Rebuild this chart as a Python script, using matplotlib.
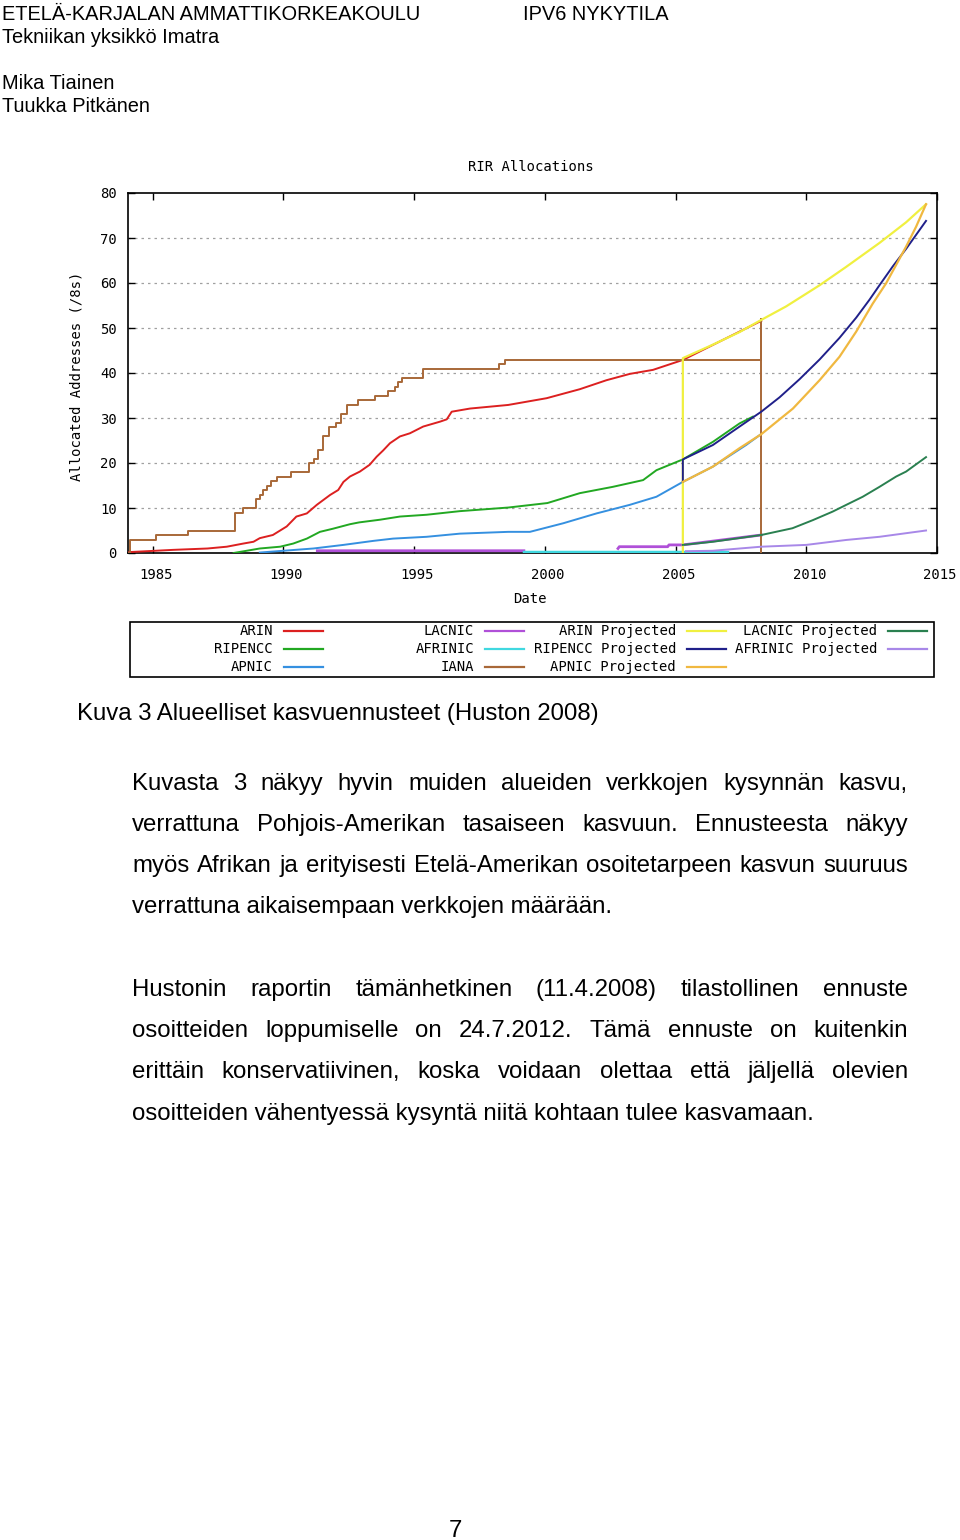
import matplotlib
matplotlib.use("Agg")
import matplotlib.pyplot as plt
import numpy as np
from matplotlib.lines import Line2D
from matplotlib.patches import Rectangle
from matplotlib.transforms import ScaledTranslation

# ---------------- data ----------------
x_ticks = [1985, 1990, 1995, 2000, 2005, 2010, 2015]
y_ticks = [0, 10, 20, 30, 40, 50, 60, 70, 80]

iana_x = [1984.07, 1984.14, 1985.13, 1986.37, 1988.16, 1988.47, 1988.96, 1989.09, 1989.24, 1989.37,
          1989.53, 1989.75, 1990.3, 1991.0, 1991.18, 1991.34, 1991.53, 1991.76, 1992.0, 1992.21,
          1992.43, 1992.87, 1993.51, 1994.02, 1994.27, 1994.4, 1994.53, 1995.35, 1998.26, 1998.47,
          2008.28, 2008.28, 2008.28]
iana_y = [0, 3, 4, 5, 9, 10, 12, 13, 14, 15,
          16, 17, 18, 20, 21, 23, 26, 28, 29, 31,
          33, 34, 35, 36, 37, 38, 39, 41, 42, 43,
          43, 52, 0]

arin_x = [1984.1, 1985.8, 1987.1, 1987.84, 1988.47, 1988.86, 1989.1, 1989.6, 1990.13, 1990.5,
          1990.9, 1991.28, 1991.79, 1992.1, 1992.3, 1992.55, 1992.93, 1993.3, 1993.57, 1993.82,
          1994.08, 1994.46, 1994.84, 1995.35, 1996.0, 1996.25, 1996.44, 1997.14, 1998.6, 2000.07,
          2001.34, 2002.36, 2003.25, 2004.14, 2005.28, 2006.69, 2008.28]
arin_y = [0.2, 0.7, 1.0, 1.4, 2.1, 2.5, 3.3, 4.0, 5.9, 8.1,
          8.8, 10.7, 12.9, 14.0, 15.8, 17.0, 18.1, 19.6, 21.4, 22.8,
          24.4, 25.9, 26.6, 28.1, 29.2, 29.7, 31.4, 32.1, 32.9, 34.4,
          36.4, 38.4, 39.8, 40.7, 42.9, 47.0, 51.6]

ripe_x = [1988.1, 1989.1, 1989.88, 1990.38, 1990.9, 1991.4, 1991.9, 1992.55, 1992.9, 1993.7,
          1994.46, 1995.48, 1996.75, 1998.6, 2000.1, 2001.34, 2002.6, 2003.76, 2004.27, 2005.28,
          2006.43, 2007.45, 2007.96]
ripe_y = [0.0, 1.0, 1.4, 2.1, 3.2, 4.7, 5.4, 6.4, 6.8, 7.4,
          8.1, 8.5, 9.3, 10.1, 11.1, 13.3, 14.7, 16.2, 18.4, 20.8,
          24.7, 28.8, 30.3]

apnic_x = [1989.1, 1991.15, 1992.3, 1993.45, 1994.2, 1995.48, 1996.75, 1998.6, 1999.43, 2000.7,
           2001.98, 2003.25, 2004.27, 2005.28, 2006.43, 2007.7, 2008.22]
apnic_y = [0.1, 1.0, 1.8, 2.7, 3.2, 3.6, 4.3, 4.7, 4.7, 6.6,
           8.8, 10.7, 12.5, 15.8, 19.2, 24.0, 26.2]

lacnic_x = [1991.3, 1999.2, np.nan, 2002.8, 2002.85, 2004.7, 2004.75, 2005.28, 2008.28]
lacnic_y = [0.5, 0.5, np.nan, 1.0, 1.4, 1.4, 1.8, 1.8, 4.0]

afrinic_x = [1999.2, 2007.0]
afrinic_y = [0.2, 0.2]

arin_p_x = [2005.28, 2005.28, 2006.43, 2007.45, 2008.28, 2009.23, 2010.51, 2011.53, 2012.80, 2013.82, 2014.58]
arin_p_y = [0.0, 43.3, 46.3, 49.1, 51.8, 54.8, 59.5, 63.6, 68.9, 73.5, 77.5]

ripe_p_x = [2005.28, 2005.28, 2006.43, 2007.45, 2008.28, 2008.98, 2009.74, 2010.51, 2011.27, 2011.91,
            2012.42, 2012.80, 2013.31, 2013.82, 2014.58]
ripe_p_y = [15.8, 20.8, 24.0, 28.1, 31.4, 34.6, 38.6, 43.0, 47.8, 52.3,
            56.3, 59.5, 63.7, 67.6, 73.8]

apnic_p_x = [2005.28, 2006.43, 2007.45, 2008.28, 2009.49, 2010.51, 2011.27, 2011.91, 2012.54, 2013.05,
             2013.82, 2014.2, 2014.58]
apnic_p_y = [15.8, 19.2, 23.3, 26.4, 32.1, 38.4, 43.6, 49.2, 55.4, 59.9,
             68.1, 72.5, 77.5]

lacnic_p_x = [2005.28, 2006.43, 2008.28, 2009.47, 2010.25, 2011.01, 2011.53, 2012.16, 2012.80, 2013.44,
              2013.82, 2014.58]
lacnic_p_y = [1.8, 2.5, 4.0, 5.5, 7.3, 9.2, 10.7, 12.5, 14.7, 17.0,
              18.1, 21.3]

afrinic_p_x = [2005.4, 2006.42, 2008.28, 2010.0, 2011.53, 2012.80, 2014.58]
afrinic_p_y = [0.4, 0.5, 1.4, 1.8, 2.9, 3.6, 5.0]

series_labels = ["ARIN", "RIPENCC", "APNIC", "LACNIC", "AFRINIC", "IANA",
                 "ARIN Projected", "RIPENCC Projected", "APNIC Projected",
                 "LACNIC Projected", "AFRINIC Projected"]
series_colors = ["#dc2020", "#22a822", "#3590e0", "#b050d8", "#40d8e0", "#a86838",
                 "#f0f040", "#20208a", "#f0b840", "#2a8050", "#a888e8"]

header_left = ["ETELÄ-KARJALAN AMMATTIKORKEAKOULU", "Tekniikan yksikkö Imatra", "", "Mika Tiainen", "Tuukka Pitkänen"]
header_right = "IPV6 NYKYTILA"
caption = "Kuva 3 Alueelliset kasvuennusteet (Huston 2008)"
paragraph1 = ["Kuvasta 3 näkyy hyvin muiden alueiden verkkojen kysynnän kasvu,",
              "verrattuna Pohjois-Amerikan tasaiseen kasvuun. Ennusteesta näkyy",
              "myös Afrikan ja erityisesti Etelä-Amerikan osoitetarpeen kasvun suuruus",
              "verrattuna aikaisempaan verkkojen määrään."]
paragraph2 = ["Hustonin raportin tämänhetkinen (11.4.2008) tilastollinen ennuste",
              "osoitteiden loppumiselle on 24.7.2012. Tämä ennuste on kuitenkin",
              "erittäin konservatiivinen, koska voidaan olettaa että jäljellä olevien",
              "osoitteiden vähentyessä kysyntä niitä kohtaan tulee kasvamaan."]
page_number = "7"

# ---------------- figure ----------------
W, H = 960, 1540
fig = plt.figure(figsize=(W / 100, H / 100), dpi=100)
fig.patch.set_facecolor("white")
renderer = fig.canvas.get_renderer()

def fx(x):
    return x / W

def fy(y):
    return 1 - y / H

SANS = "Liberation Sans"
MONO = "DejaVu Sans Mono"
MONO_SIZE = 10.0

def text_width(s, size, family):
    t = fig.text(0, 0, s, fontsize=size, family=family)
    w = t.get_window_extent(renderer).width
    t.remove()
    return w

def fit_size(s, target, family):
    return 20 * target / text_width(s, 20, family)

# header
hsize = fit_size(header_left[0], 419, SANS)
for line, base in zip(header_left, [20, 43, 66, 89, 112]):
    if line:
        fig.text(fx(2), fy(base), line, fontsize=hsize, family=SANS, va="baseline", ha="left")
fig.text(fx(523), fy(20), header_right, fontsize=hsize, family=SANS, va="baseline", ha="left")

# ---------------- chart ----------------
L, R, T, B = 128, 937, 193, 553
ax = fig.add_axes([fx(L), fy(B), (R - L) / W, (B - T) / H])
ax.set_xlim(1984.06, 2015.0)
ax.set_ylim(0, 80)

for yv in y_ticks[1:-1]:
    ax.axhline(yv, color="#a0a0a0", lw=0.9, linestyle=(0, (2, 3.2)), zorder=1)

lw = 1.4
ax.plot(arin_x, arin_y, color=series_colors[0], lw=lw, zorder=3)
ax.plot(ripe_x, ripe_y, color=series_colors[1], lw=lw, zorder=3)
ax.plot(apnic_x, apnic_y, color=series_colors[2], lw=lw, zorder=3)
ax.plot(lacnic_x, lacnic_y, color=series_colors[3], lw=lw + 0.6, zorder=3)
ax.plot(afrinic_x, afrinic_y, color=series_colors[4], lw=lw + 0.4, zorder=3)
ax.step(iana_x, iana_y, where="post", color=series_colors[5], lw=lw, zorder=3)
ax.plot(arin_p_x, arin_p_y, color=series_colors[6], lw=lw + 0.2, zorder=4)
ax.plot(ripe_p_x, ripe_p_y, color=series_colors[7], lw=lw, zorder=4)
ax.plot(apnic_p_x, apnic_p_y, color=series_colors[8], lw=lw + 0.2, zorder=4)
ax.plot(lacnic_p_x, lacnic_p_y, color=series_colors[9], lw=lw, zorder=4)
ax.plot(afrinic_p_x, afrinic_p_y, color=series_colors[10], lw=lw, zorder=4)

ax.set_xticks(x_ticks)
ax.set_xticklabels([str(v) for v in x_ticks])
ax.set_yticks(y_ticks)
ax.set_yticklabels([str(v) for v in y_ticks])
ax.tick_params(axis="both", direction="in", length=5, width=1.0, color="black",
               top=True, right=True, labelsize=MONO_SIZE, labelfontfamily=MONO)
ax.tick_params(axis="x", pad=11)
ax.tick_params(axis="y", pad=8)
shift = ScaledTranslation(3 / 100, 0, fig.dpi_scale_trans)
for lab in ax.get_xticklabels():
    lab.set_transform(lab.get_transform() + shift)
for sp in ax.spines.values():
    sp.set_linewidth(1.2)
    sp.set_color("black")

fig.text(fx(531), fy(167), "RIR Allocations", fontsize=MONO_SIZE, family=MONO, ha="center", va="center")
fig.text(fx(76), fy(376), "Allocated Addresses (/8s)", fontsize=MONO_SIZE, family=MONO,
         ha="center", va="center", rotation=90)
fig.text(fx(530), fy(599), "Date", fontsize=MONO_SIZE, family=MONO, ha="center", va="center")

# legend box
fig.patches.append(Rectangle((fx(130), fy(677)), (934 - 130) / W, (677 - 622) / H,
                             transform=fig.transFigure, fill=False, edgecolor="black", lw=1.2))
col_right = [273, 474, 676, 877]
row_y = [631, 649, 667]
for i, (lab, col) in enumerate(zip(series_labels, series_colors)):
    c, r = divmod(i, 3)
    xr = col_right[c]
    yy = row_y[r]
    fig.text(fx(xr), fy(yy), lab, fontsize=MONO_SIZE, family=MONO, ha="right", va="center")
    fig.lines.append(Line2D([fx(xr + 11), fx(xr + 50)], [fy(yy), fy(yy)],
                            transform=fig.transFigure, color=col, lw=1.6))

# ---------------- caption & paragraphs ----------------
csize = fit_size(caption, 523, SANS)
fig.text(fx(77), fy(720), caption, fontsize=csize, family=SANS, va="baseline", ha="left")

bsize = fit_size(paragraph2[-1], 683, SANS)
LEFT, RIGHT = 132, 908

def draw_line(line, base, justify):
    words = line.split(" ")
    if not justify:
        fig.text(fx(LEFT), fy(base), line, fontsize=bsize, family=SANS, va="baseline", ha="left")
        return
    widths = [text_width(w, bsize, SANS) for w in words]
    gap = (RIGHT - LEFT - sum(widths)) / (len(words) - 1)
    x = LEFT
    for w, wd in zip(words, widths):
        fig.text(fx(x), fy(base), w, fontsize=bsize, family=SANS, va="baseline", ha="left")
        x += wd + gap

for para, bases in ((paragraph1, [790, 831, 872, 913]), (paragraph2, [996, 1037, 1078, 1120])):
    for k, (line, base) in enumerate(zip(para, bases)):
        draw_line(line, base, k < len(para) - 1)

fig.text(fx(455), fy(1537), page_number, fontsize=bsize, family=SANS, va="baseline", ha="center")

fig.savefig("out.png", dpi=100, facecolor="white")
